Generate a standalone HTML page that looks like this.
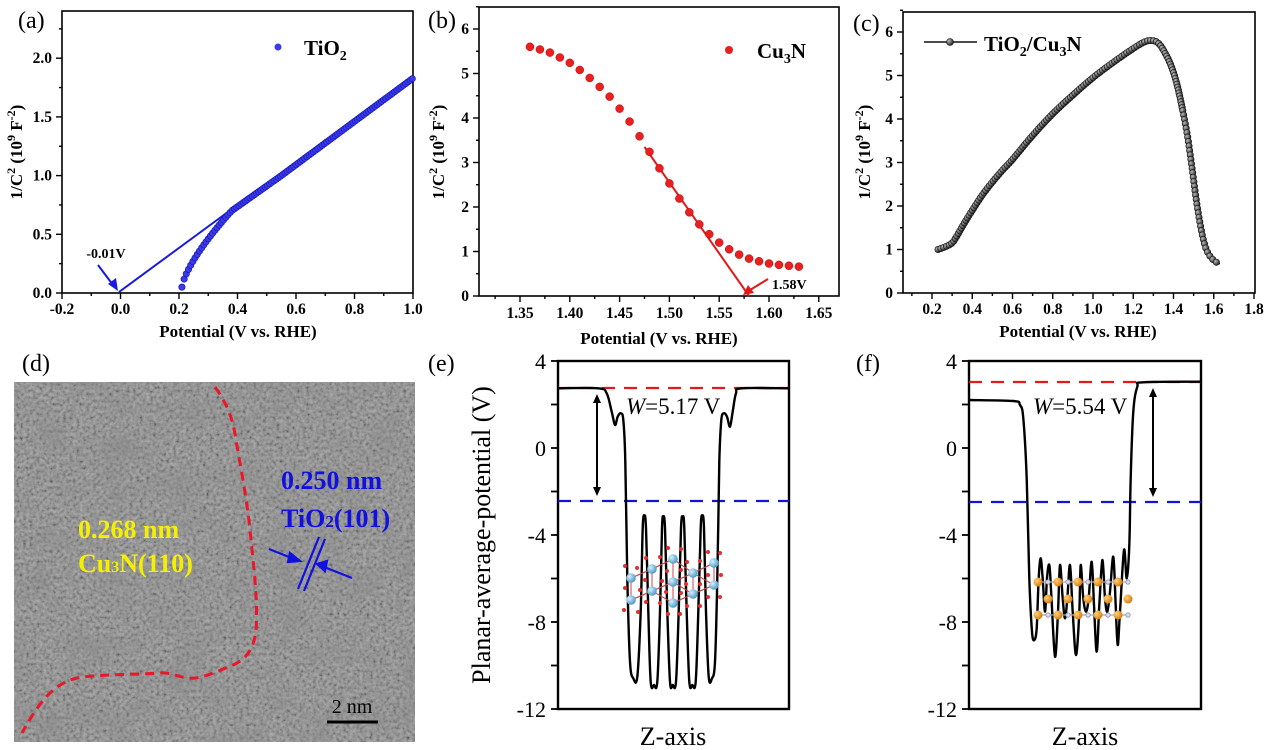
<!DOCTYPE html>
<html><head><meta charset="utf-8"><style>
html,body{margin:0;padding:0;background:#fff;}
svg{display:block;}
.b{font-family:"Liberation Serif",serif;font-weight:bold;}
.s{font-family:"Liberation Serif",serif;}
</style></head><body>
<svg id="g" width="1269" height="750" viewBox="0 0 1269 750" xmlns="http://www.w3.org/2000/svg">
<defs>
<filter id="grain" x="0" y="0" width="100%" height="100%">
<feTurbulence type="fractalNoise" baseFrequency="0.3" numOctaves="2" seed="5" result="t"/>
<feColorMatrix in="t" type="matrix" values="1.6 0 0 0 -0.3  1.6 0 0 0 -0.3  1.6 0 0 0 -0.3  0 0 0 0 1"/>
</filter>
<filter id="blot" x="0" y="0" width="100%" height="100%">
<feTurbulence type="fractalNoise" baseFrequency="0.03" numOctaves="2" seed="7"/>
<feColorMatrix type="matrix" values="0 0 0 0 0.25  0 0 0 0 0.25  0 0 0 0 0.25  1.2 0 0 0 -0.5"/>
</filter>
<radialGradient id="ti" cx="35%" cy="35%" r="65%"><stop offset="0" stop-color="#d8f0ff"/><stop offset="1" stop-color="#4f9cc6"/></radialGradient>
<radialGradient id="cu" cx="35%" cy="35%" r="65%"><stop offset="0" stop-color="#ffd27a"/><stop offset="1" stop-color="#d87e10"/></radialGradient>
<radialGradient id="bd" cx="35%" cy="35%" r="65%"><stop offset="0" stop-color="#bbb"/><stop offset="1" stop-color="#222"/></radialGradient>
</defs>

<!-- Panel d TEM -->
<rect x="14" y="382" width="401" height="360" fill="#868686"/>
<rect x="14" y="382" width="401" height="360" filter="url(#grain)" opacity="0.3"/>
<rect x="14" y="382" width="401" height="360" filter="url(#blot)"/>
<path d="M215,387 C228,405 233,420 236,440 C242,475 247,500 250,530 C254,570 258,600 256,630 C254,650 245,660 233,665 C215,672 200,680 187,678 C175,676 170,672 160,673 C130,675 100,674 77,678 C55,683 40,700 22,733" fill="none" stroke="#e8182a" stroke-width="3" stroke-dasharray="9,6"/>
<text x="78" y="538" class="b" font-size="26" fill="#f5f000">0.268 nm</text>
<text x="78" y="572" class="b" font-size="26" fill="#f5f000">Cu<tspan font-size="16">3</tspan>N(110)</text>
<text x="281" y="489" class="b" font-size="26" fill="#1010e0">0.250 nm</text>
<text x="281" y="527" class="b" font-size="26" fill="#1010e0">TiO<tspan font-size="17">2</tspan>(101)</text>
<g stroke="#1010e0" stroke-width="2.2" fill="#1010e0">
<line x1="319" y1="537" x2="298" y2="589"/><line x1="325" y1="539" x2="304" y2="591"/>
<line x1="269" y1="549" x2="294" y2="559"/><polygon points="300,561 290,553 288,562"/>
<line x1="352" y1="578" x2="324" y2="567"/><polygon points="317,564 327,561 325,571"/>
</g>
<line x1="327" y1="722" x2="378" y2="722" stroke="#000" stroke-width="3"/>
<text x="352" y="713" class="s" font-size="20" text-anchor="middle">2 nm</text>

<!-- Panel labels -->
<g class="s" font-size="24">
<text x="18" y="28">(a)</text><text x="428" y="28">(b)</text><text x="853" y="31">(c)</text>
<text x="22" y="371">(d)</text><text x="428" y="371">(e)</text><text x="856" y="371">(f)</text>
</g>
<g id="dyn"></g>
</svg>
<script>
var NS="http://www.w3.org/2000/svg",D=document.getElementById("dyn");
function el(t,a,txt){var e=document.createElementNS(NS,t);for(var k in a)e.setAttribute(k,a[k]);if(txt!=null)e.innerHTML=txt;D.appendChild(e);return e;}
function box(l,t,r,b,w){el("rect",{x:l,y:t,width:r-l,height:b-t,fill:"none",stroke:"#000","stroke-width":w||1.6});}
function tick(x1,y1,x2,y2,w){el("line",{x1:x1,y1:y1,x2:x2,y2:y2,stroke:"#000","stroke-width":w||1.4});}
function txt(x,y,s,sz,anc,cls,extra){var a={x:x,y:y,"font-size":sz,"text-anchor":anc||"middle","class":cls||"b"};for(var k in extra)a[k]=extra[k];return el("text",a,s);}
function cr(pts){var d="M"+pts[0][0]+","+pts[0][1];for(var i=0;i<pts.length-1;i++){var p0=pts[i-1]||pts[i],p1=pts[i],p2=pts[i+1],p3=pts[i+2]||p2;
d+=" C"+(p1[0]+(p2[0]-p0[0])/6).toFixed(1)+","+(p1[1]+(p2[1]-p0[1])/6).toFixed(1)+" "+(p2[0]-(p3[0]-p1[0])/6).toFixed(1)+","+(p2[1]-(p3[1]-p1[1])/6).toFixed(1)+" "+p2[0].toFixed(1)+","+p2[1].toFixed(1);}return d;}
function ylab(x,y,sz){txt(x,y,"1/C<tspan dy='-7' font-size='12'>2</tspan><tspan dy='7'> (10</tspan><tspan dy='-7' font-size='12'>9</tspan><tspan dy='7'> F</tspan><tspan dy='-7' font-size='12'>-2</tspan><tspan dy='7'>)</tspan>",sz||17,"middle","b",{transform:"rotate(-90 "+x+" "+y+")"});}
var TS=15.5,AS=17;

(function(){
var X=function(v){return 62+(v+0.2)*292.5},Y=function(v){return 293-v*117.4};
box(62,11,413,293);
for(var i=0;i<=12;i++){var v=-0.2+i*0.1,x=X(v);tick(x,293,x,i%2?296:299);if(i%2==0)txt(x,314,v.toFixed(1),TS);}
for(var i=0;i<=4;i++){var v=i*0.5,y=Y(v);tick(62,y,56,y);txt(52,y+5,v.toFixed(1),TS,"end");if(i<4)tick(62,Y(v+0.25),59,Y(v+0.25));}
tick(62,Y(2.25),59,Y(2.25));
txt(238,337,"Potential (V vs. RHE)",AS);ylab(22,152);
el("line",{x1:119,y1:292,x2:232,y2:209,stroke:"#1a1adf","stroke-width":2});
function f(v){if(v<0.38)return 0.05+0.65*Math.pow((v-0.21)/0.17,0.72);if(v<0.55)return 0.7+0.3*(v-0.38)/0.17;return 1.0+0.83*(v-0.55)/0.45;}
for(var v=0.21;v<=1.0001;v+=0.0075){el("circle",{cx:X(v),cy:Y(f(v)),r:3.2,fill:"#3a3ae8",stroke:"#1010b0","stroke-width":0.6});}
el("line",{x1:98,y1:265,x2:113,y2:285,stroke:"#1a1adf","stroke-width":2});
el("polygon",{points:"118,291 108,284 116,278",fill:"#1a1adf"});
txt(106,258,"-0.01V",14);
el("circle",{cx:278,cy:47,r:3.5,fill:"#3a3ae8"});
txt(304,55,"TiO<tspan font-size='14' dy='5'>2</tspan>",21,"start");
})();

(function(){
var X=function(v){return 520+(v-1.35)*996},Y=function(v){return 296-v*44.5};
box(479,7,839,296);
for(var i=-1;i<=13;i++){var v=1.35+i*0.025,x=X(v);if(x<479||x>839)continue;tick(x,296,x,i%2?299:302);if(i%2==0)txt(x,318,v.toFixed(2),TS);}
for(var i=0;i<=6;i++){var y=Y(i);tick(479,y,473,y);txt(469,y+5,""+i,TS,"end");tick(479,Y(i+0.5),476,Y(i+0.5));}
txt(659,344,"Potential (V vs. RHE)",AS);ylab(444,152);
el("line",{x1:X(1.475),y1:Y(3.35),x2:X(1.58),y2:Y(0),stroke:"#e01818","stroke-width":2});
var d=[5.6,5.54,5.47,5.36,5.24,5.08,4.9,4.7,4.48,4.21,3.92,3.59,3.24,2.87,2.53,2.19,1.88,1.61,1.39,1.2,1.05,0.93,0.84,0.78,0.73,0.7,0.68,0.66];
for(var i=0;i<d.length;i++)el("circle",{cx:X(1.36+i*0.01),cy:Y(d[i]),r:4,fill:"#e82020",stroke:"#b00","stroke-width":0.5});
el("line",{x1:768,y1:279,x2:750,y2:290,stroke:"#e01818","stroke-width":2});
el("polygon",{points:"743,295 748,285 754,293",fill:"#e01818"});
txt(772,289,"1.58V",14,"start");
el("circle",{cx:729,cy:50,r:4,fill:"#e82020"});
txt(757,58,"Cu<tspan font-size='14' dy='5'>3</tspan><tspan dy='-5'>N</tspan>",21,"start");
})();

(function(){
var X=function(v){return 932+(v-0.2)*201.25},Y=function(v){return 293-v*43.5};
box(903,12,1255,293);
for(var i=0;i<=17;i++){var v=0.1+i*0.1,x=X(v);if(x<903)continue;tick(x,293,x,i%2?299:296);if(i%2==1)txt(x,314,v.toFixed(1),TS);}
for(var i=0;i<=6;i++){var y=Y(i);tick(903,y,897,y);txt(893,y+5,""+i,TS,"end");tick(903,Y(i+0.5),900,Y(i+0.5));}
txt(1078,337,"Potential (V vs. RHE)",AS);ylab(870,152);
var k=[[0.23,1.0],[0.27,1.07],[0.3,1.15],[0.32,1.28],[0.36,1.6],[0.4,1.9],[0.45,2.25],[0.5,2.55],[0.55,2.82],[0.6,3.07],[0.7,3.62],[0.8,4.12],[0.9,4.55],[1.0,4.95],[1.1,5.3],[1.2,5.62],[1.26,5.78],[1.3,5.8],[1.33,5.72],[1.36,5.5],[1.39,5.2],[1.42,4.75],[1.45,4.1],[1.47,3.6],[1.49,2.95],[1.51,2.25],[1.53,1.65],[1.55,1.2],[1.57,0.93],[1.6,0.75],[1.63,0.67]];
var P=k.map(function(p){return [X(p[0]),Y(p[1])]});
var path=el("path",{d:cr(P),fill:"none",stroke:"#111","stroke-width":1.6});
var L=path.getTotalLength();
for(var s=0;s<=L;s+=(s<L*0.7?3:4.5)){var q=path.getPointAtLength(s);el("circle",{cx:q.x,cy:q.y,r:3.2,fill:"url(#bd)",stroke:"#111","stroke-width":0.6});}
el("line",{x1:924,y1:42,x2:977,y2:42,stroke:"#111","stroke-width":1.6});
el("circle",{cx:950,cy:42,r:3.5,fill:"url(#bd)",stroke:"#111","stroke-width":0.6});
txt(984,51,"TiO<tspan font-size='14' dy='5'>2</tspan><tspan dy='-5'>/Cu</tspan><tspan font-size='14' dy='5'>3</tspan><tspan dy='-5'>N</tspan>",21,"start");
})();

function zp(ox,arr){return arr.map(function(p){return [ox+p[0]/3,345+p[1]/3]});}
function pot(l,r,redY,blueY,cx){
box(l,361,r,709,2.4);
for(var i=0;i<=8;i++){var v=4-i*2,y=361+i*43.5;tick(l,y,l-7,y,1.8);if(i%2==0)txt(l-12,y+8,""+v,22,"end","s");}
txt(cx,745,"Z-axis",26,"middle","s");
el("line",{x1:l,y1:redY,x2:r,y2:redY,stroke:"#e81818","stroke-width":2.2,"stroke-dasharray":"13,9"});
el("line",{x1:l,y1:blueY,x2:r,y2:blueY,stroke:"#1414d8","stroke-width":2.2,"stroke-dasharray":"13,9"});
}
pot(558,789,388,501,673);
txt(490,535,"Planar-average-potential (V)",26,"middle","s",{transform:"rotate(-90 490 535)"});
pot(969,1201,382,502,1085);

var E=[[383,130],[505,130],[530,145],[545,200],[555,240],[563,215],[572,205],[580,225],[586,350],[592,700],[600,950],[610,1000],[622,995],[632,800],[638,550],[643,512],[648,550],[655,800],[662,1010],[672,1020],[682,1010],[690,800],[696,550],[700,515],[705,550],[712,800],[720,1010],[728,1020],[738,1010],[746,800],[753,550],[758,515],[763,550],[770,800],[778,1010],[787,1020],[797,1010],[805,800],[812,550],[817,512],[822,550],[828,800],[836,995],[846,1000],[855,950],[862,700],[868,350],[874,225],[882,205],[891,215],[900,245],[908,200],[918,145],[935,130],[1077,130]];
el("path",{d:cr(zp(430,E)),fill:"none",stroke:"#000","stroke-width":2.4});
var F=[[358,165],[490,168],[510,180],[520,220],[530,400],[538,700],[546,860],[553,885],[560,850],[566,700],[572,640],[578,700],[585,800],[591,700],[598,660],[604,750],[615,935],[624,800],[630,660],[638,760],[645,820],[652,760],[660,660],[668,800],[678,930],[688,800],[692,660],[700,760],[708,800],[716,760],[725,650],[732,780],[740,920],[748,780],[757,645],[765,760],[772,800],[780,740],[790,635],[797,780],[803,900],[810,800],[822,615],[830,700],[838,600],[842,400],[850,200],[862,125],[880,112],[1053,110]];
el("path",{d:cr(zp(850,F)),fill:"none",stroke:"#000","stroke-width":2.4});

function varrow(x,y1,y2){el("line",{x1:x,y1:y1+6,x2:x,y2:y2-6,stroke:"#000","stroke-width":2});
el("polygon",{points:(x-4)+","+(y1+9)+" "+x+","+y1+" "+(x+4)+","+(y1+9),fill:"#000"});
el("polygon",{points:(x-4)+","+(y2-9)+" "+x+","+y2+" "+(x+4)+","+(y2-9),fill:"#000"});}
varrow(597,394,496);varrow(1153,388,497);
txt(626,414,"<tspan font-style='italic'>W</tspan>=5.17 V",23,"start","s");
txt(1033,414,"<tspan font-style='italic'>W</tspan>=5.54 V",23,"start","s");

var ti=[[631,578],[631,600],[652,569],[652,591],[673,559],[673,582],[673,603],[693,573],[693,594],[714,563],[714,585]];
ti.forEach(function(a){ti.forEach(function(b){var dx=a[0]-b[0],dy=a[1]-b[1];if(dx*dx+dy*dy<600&&dx*dx+dy*dy>0)el("line",{x1:a[0],y1:a[1],x2:b[0],y2:b[1],stroke:"#c8444a","stroke-width":1});});});
var ox=[[625,566],[637,568],[625,588],[640,590],[624,610],[638,612],[646,558],[660,557],[645,580],[662,581],[646,602],[660,603],[668,548],[681,549],[667,571],[681,570],[666,592],[681,593],[668,614],[680,614],[687,562],[700,561],[686,584],[700,584],[687,606],[700,606],[708,552],[720,553],[708,575],[721,575],[708,597],[720,597]];
ox.forEach(function(p){el("circle",{cx:p[0],cy:p[1],r:2,fill:"#e03030"});});
ti.forEach(function(p){el("circle",{cx:p[0],cy:p[1],r:4.8,fill:"url(#ti)"});});
[582,615].forEach(function(y){el("line",{x1:1038,y1:y,x2:1128,y2:y,stroke:"#b0a8a0","stroke-width":1.2});});
for(var i=0;i<5;i++){var x=1038+i*20;
el("circle",{cx:x+10,cy:582,r:2.2,fill:"#dde",stroke:"#8890b0","stroke-width":0.8});
el("circle",{cx:x+10,cy:615,r:2.2,fill:"#dde",stroke:"#8890b0","stroke-width":0.8});
el("circle",{cx:x,cy:582,r:4.5,fill:"url(#cu)"});el("circle",{cx:x,cy:615,r:4.5,fill:"url(#cu)"});
el("circle",{cx:x+10,cy:599,r:4.5,fill:"url(#cu)"});}
</script>
</body></html>
